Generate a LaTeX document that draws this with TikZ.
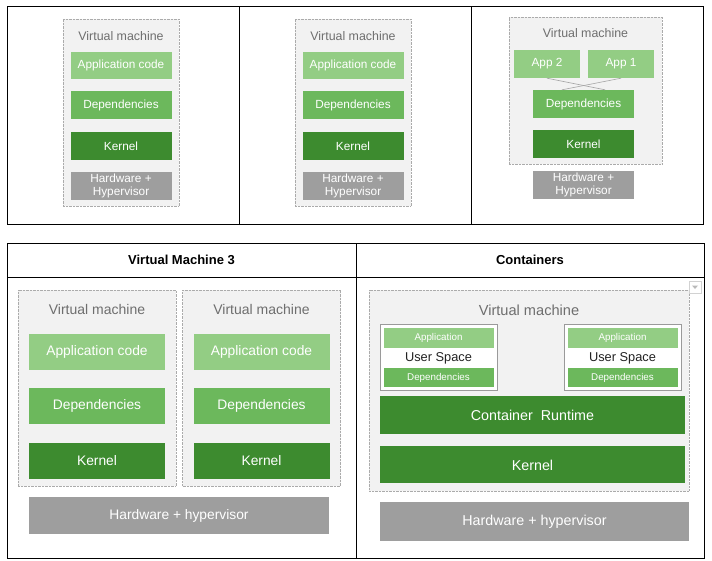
\documentclass[tikz,border=0pt]{standalone}
\usepackage{fontspec}
\setmainfont{Liberation Sans}
\usetikzlibrary{positioning}
\definecolor{appgreen}{HTML}{93CD84}
\definecolor{depgreen}{HTML}{6CB85C}
\definecolor{kerngreen}{HTML}{3D8B2F}
\definecolor{hwgrey}{HTML}{9E9E9E}
\definecolor{vmgrey}{HTML}{F2F2F2}
\definecolor{vmborder}{HTML}{ABABAB}
\definecolor{labelgrey}{HTML}{6E6E6E}
\definecolor{cborder}{HTML}{9A9A9A}
\definecolor{usertext}{HTML}{222222}
\newcommand{\pxfont}[1]{\fontsize{#1}{13}\selectfont}

\begin{document}
\begin{tikzpicture}[x=1pt,y=-1pt]
    \tikzstyle{vm}=[rectangle, draw=vmborder, densely dotted, fill=vmgrey, inner sep=0pt]
    \tikzstyle{vmlabel}=[text=labelgrey, inner sep=0pt]
    \tikzstyle{layer}=[rectangle, inner sep=0pt, text=white, align=center]
    \tikzstyle{app}=[layer, fill=appgreen]
    \tikzstyle{dep}=[layer, fill=depgreen]
    \tikzstyle{kern}=[layer, fill=kerngreen]
    \tikzstyle{hw}=[layer, fill=hwgrey]
    \tikzstyle{top}=[minimum width=101pt, minimum height=28pt, node distance=12pt, font=\pxfont{11.8}]
    \tikzstyle{big}=[minimum width=136pt, minimum height=36pt, node distance=18pt, font=\pxfont{13.8}]
    \tikzstyle{wide}=[minimum height=38pt, node distance=12pt, font=\pxfont{14.3}]
    \tikzstyle{small}=[minimum width=110pt, font=\pxfont{9.8}]
    \tikzstyle{cbox}=[rectangle, draw=cborder, fill=white, inner sep=0pt]
    \tikzstyle{cell}=[draw=black, line width=1pt]
    \tikzstyle{head}=[inner sep=0pt, font=\bfseries\pxfont{13}]
    \tikzstyle{crossline}=[draw=gray!70, line width=0.6pt]
      \useasboundingbox[fill=white] (0,0) rectangle (712,560);

      % top table
      \draw[cell] (7,6) rectangle (703.5,224);
      \draw[cell] (239,6) -- (239,224) (471.5,6) -- (471.5,224);
      \foreach \cx/\n in {121/a,353/b}{
        \node[vm, minimum width=116pt, minimum height=187pt] (vm\n) at (\cx,112.5) {};
        \node[vmlabel, font=\pxfont{12.4}] (lab\n) at (\cx,36) {Virtual machine};
        \node[app, top, minimum height=27pt] (app\n) at (\cx,65.5) {Application code};
        \node[dep, top, below=of app\n] (dep\n) {Dependencies};
        \node[kern, top, below=of dep\n] (kern\n) {Kernel};
        \node[hw, top, below=of kern\n] (hw\n) {Hardware +\\Hypervisor};
      }
      \node[vm, minimum width=153pt, minimum height=147pt] (vmc) at (585.5,90.5) {};
      \node[vmlabel, font=\pxfont{12.4}] (labc) at (585.5,33) {Virtual machine};
      \node[app, top, minimum width=66pt] (apptwo) at (547,64) {App 2};
      \node[app, top, minimum width=66pt] (appone) at (621,64) {App 1};
      \node[dep, top] (depc) at (583.5,104) {Dependencies};
      \node[kern, top, below=of depc] (kernc) {Kernel};
      \node[hw, top, below=of kernc] (hwc) {Hardware +\\Hypervisor};
      \draw[crossline] (apptwo.south) -- ([xshift=21.5pt]depc.north);
      \draw[crossline] (appone.south) -- ([xshift=-21.5pt]depc.north);

      % bottom table
      \draw[cell] (7,243) rectangle (704,558);
      \draw[cell] (7,277) -- (704,277) (356,243) -- (356,558);
      \node[head] (headvm) at (181.5,260) {Virtual Machine 3};
      \node[head] (headct) at (530,260) {Containers};
      \foreach \cx/\n in {97/d,261.5/e}{
        \node[vm, minimum width=158pt, minimum height=196pt] (vm\n) at (\cx,388) {};
        \node[vmlabel, font=\pxfont{14}] (lab\n) at (\cx,309) {Virtual machine};
        \node[app, big] (app\n) at (\cx,352) {Application code};
        \node[dep, big, below=of app\n] (dep\n) {Dependencies};
        \node[kern, big, below=of dep\n] (kern\n) {Kernel};
      }
      \node[hw, big, minimum width=300pt, minimum height=37pt] (hwd) at (179,515.5) {Hardware + hypervisor};

      \node[vm, minimum width=320pt, minimum height=201pt] (vmf) at (529,390.5) {};
      \node[vmlabel, font=\pxfont{14.6}] (labf) at (529,310) {Virtual machine};
      \foreach \cx/\n in {438.5/one,622.5/two}{
        \node[cbox, minimum width=117pt, minimum height=66pt] (ctr\n) at (\cx,357) {};
        \node[app, small, minimum height=20pt] (capp\n) at (\cx,338) {Application};
        \node[inner sep=0pt, text=usertext, font=\pxfont{12.8}] (user\n) at (\cx,358) {User Space};
        \node[dep, small, minimum height=19pt] (cdep\n) at (\cx,377.5) {Dependencies};
      }
      \node[kern, wide, minimum width=305pt] (runtime) at (532.5,415) {Container\ \ Runtime};
      \node[kern, wide, minimum width=305pt, minimum height=37pt, below=of runtime] (kernf) {Kernel};
      \node[hw, wide, minimum width=309pt, minimum height=39pt] (hwf) at (534.5,521.5) {Hardware + hypervisor};
      \draw[draw=gray!35, fill=white] (689,281) rectangle (701,293);
      \fill[gray!55] (692,285.5) -- (698,285.5) -- (695,289) -- cycle;
\end{tikzpicture}
\end{document}
